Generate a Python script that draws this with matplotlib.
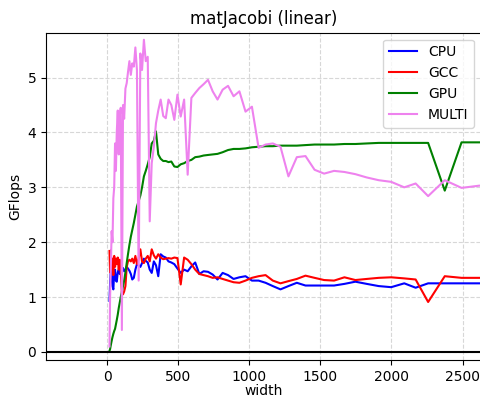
"""Throughput of the matJacobi kernel against problem width, one line per backend."""

import matplotlib

matplotlib.use("Agg")
import matplotlib.pyplot as plt

widths = [
    16, 20, 25, 31, 37, 43, 49, 55, 61, 67, 74, 81, 88, 95, 103, 111, 119, 128,
    137, 146, 156, 166, 176, 187, 198, 209, 221, 233, 245, 258, 271, 285, 299,
    313, 328, 343, 359, 376, 394, 412, 431, 451, 472, 494, 517, 541, 566, 592,
    619, 648, 678, 709, 742, 776, 812, 850, 889, 930, 973, 1018, 1065, 1114,
    1165, 1219, 1275, 1334, 1395, 1459, 1526, 1596, 1669, 1746, 1826, 1910,
    1998, 2090, 2170, 2258, 2375, 2493, 2616, 2736,
]

cpu = [
    0.93, 1.25, 1.50, 1.45, 1.20, 1.14, 1.45, 1.50, 1.30, 1.28, 1.45, 1.50, 1.42,
    1.50, 1.52, 1.53, 1.47, 1.50, 1.55, 1.52, 1.48, 1.42, 1.32, 1.35, 1.50, 1.60,
    1.58, 1.55, 1.62, 1.70, 1.66, 1.63, 1.50, 1.44, 1.65, 1.58, 1.38, 1.78, 1.74,
    1.72, 1.65, 1.63, 1.60, 1.52, 1.44, 1.50, 1.47, 1.56, 1.63, 1.42, 1.47, 1.46,
    1.41, 1.32, 1.44, 1.40, 1.33, 1.36, 1.38, 1.30, 1.30, 1.26, 1.20, 1.14, 1.20,
    1.26, 1.21, 1.21, 1.21, 1.21, 1.24, 1.28, 1.24, 1.20, 1.18, 1.25, 1.17, 1.25,
    1.25, 1.25, 1.25, 1.25,
]

gcc = [
    1.84, 1.45, 1.85, 1.50, 1.70, 1.40, 1.75, 1.55, 1.70, 1.60, 1.72, 1.50, 1.68,
    1.45, 1.10, 1.05, 1.10, 1.20, 1.55, 1.65, 1.68, 1.65, 1.70, 1.62, 1.75, 1.60,
    1.70, 1.87, 1.65, 1.62, 1.70, 1.75, 1.65, 1.87, 1.76, 1.70, 1.78, 1.72, 1.69,
    1.70, 1.71, 1.70, 1.72, 1.71, 1.23, 1.72, 1.68, 1.60, 1.50, 1.42, 1.40, 1.38,
    1.35, 1.36, 1.33, 1.30, 1.27, 1.26, 1.30, 1.35, 1.38, 1.40, 1.30, 1.25, 1.29,
    1.33, 1.39, 1.35, 1.31, 1.30, 1.36, 1.31, 1.33, 1.35, 1.36, 1.34, 1.32, 0.91,
    1.38, 1.35, 1.35, 1.35,
]

gpu = [
    0.02, 0.05, 0.12, 0.20, 0.27, 0.33, 0.38, 0.42, 0.50, 0.58, 0.68, 0.80, 0.90,
    1.00, 1.10, 1.20, 1.30, 1.45, 1.62, 1.78, 1.95, 2.10, 2.22, 2.35, 2.50, 2.65,
    2.75, 2.85, 3.00, 3.20, 3.30, 3.42, 3.55, 3.80, 3.85, 4.02, 3.60, 3.52, 3.48,
    3.48, 3.46, 3.47, 3.38, 3.37, 3.42, 3.44, 3.48, 3.50, 3.55, 3.56, 3.58, 3.59,
    3.60, 3.61, 3.64, 3.68, 3.70, 3.70, 3.71, 3.73, 3.74, 3.75, 3.75, 3.76, 3.76,
    3.76, 3.77, 3.78, 3.78, 3.78, 3.79, 3.79, 3.80, 3.81, 3.81, 3.81, 3.81, 3.81,
    2.94, 3.82, 3.82, 3.82,
]

multi = [
    0.10, 1.00, 1.50, 2.20, 2.00, 2.80, 3.00, 3.80, 3.30, 4.00, 4.40, 3.60, 4.30,
    4.45, 0.40, 4.50, 4.25, 4.80, 4.90, 5.10, 5.30, 5.05, 5.26, 5.20, 5.55, 5.14,
    1.30, 5.44, 5.14, 5.69, 5.30, 5.38, 2.38, 3.44, 3.74, 4.17, 4.40, 4.60, 4.30,
    4.26, 4.60, 4.50, 4.23, 4.69, 4.29, 4.60, 3.23, 4.63, 4.72, 4.81, 4.88, 4.96,
    4.75, 4.60, 4.78, 4.85, 4.66, 4.75, 4.38, 4.47, 3.72, 3.78, 3.80, 3.74, 3.20,
    3.55, 3.57, 3.32, 3.25, 3.30, 3.28, 3.24, 3.18, 3.13, 3.10, 3.00, 3.07, 2.84,
    3.13, 2.99, 3.03, 3.05,
]

series = [
    ("CPU", cpu, "blue"),
    ("GCC", gcc, "red"),
    ("GPU", gpu, "green"),
    ("MULTI", multi, "violet"),
]

fig = plt.figure(figsize=(4.8, 3.98), dpi=100)
ax = fig.add_axes([0.0958, 0.095, 0.906, 0.823])

for label, values, color in series:
    ax.plot(widths, values, color=color, linewidth=1.5, label=label)

ax.axhline(0, color="black", linewidth=1.5)
ax.grid(True, linestyle="--", alpha=0.5)
ax.set_xlim(-431, 2629)
ax.set_ylim(-0.151, 5.82)
ax.set_xticks([0, 500, 1000, 1500, 2000, 2500])
ax.set_title("matJacobi (linear)")
ax.set_xlabel("width", labelpad=0)
ax.set_ylabel("GFlops")
ax.legend(loc="upper right")

fig.savefig("out.png", dpi=100)
